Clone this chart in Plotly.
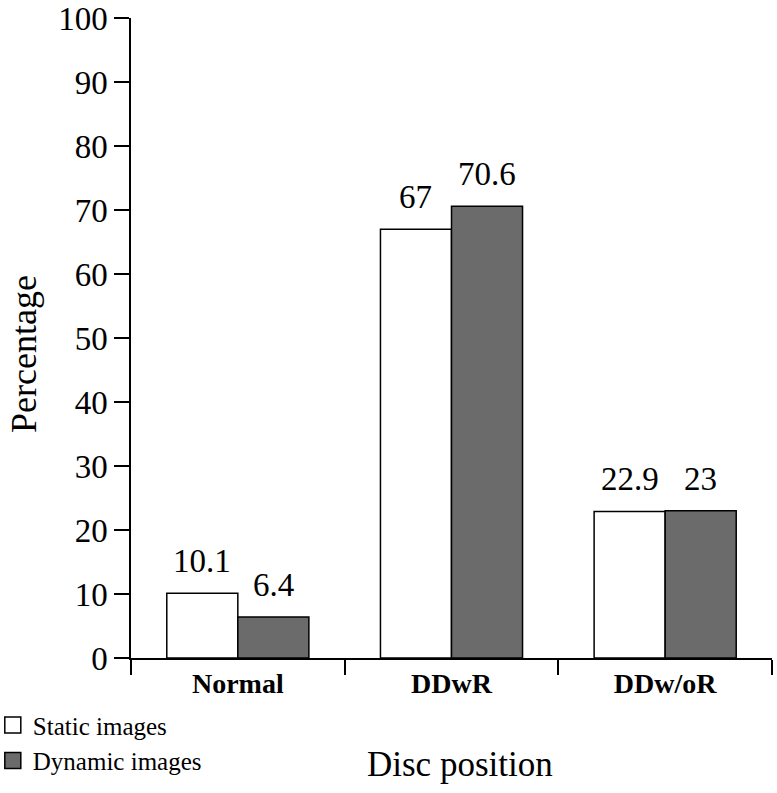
import plotly.graph_objects as go

categories = ["Normal", "DDwR", "DDw/oR"]
static_vals = [10.1, 67, 22.9]
dynamic_vals = [6.4, 70.6, 23]
static_labels = ["10.1", "67", "22.9"]
dynamic_labels = ["6.4", "70.6", "23"]
y_ticks = list(range(0, 101, 10))

FONT = "Liberation Serif, Times New Roman, serif"
GRAY = "#6b6b6b"
BARGAP = 0.335
BAR_W = (1 - BARGAP) / 2  # width of one bar in category units

fig = go.Figure()
fig.add_trace(go.Bar(
    x=categories, y=static_vals, name="Static images", showlegend=False,
    marker=dict(color="white", line=dict(color="black", width=1.5)),
))
fig.add_trace(go.Bar(
    x=categories, y=dynamic_vals, name="Dynamic images", showlegend=False,
    marker=dict(color=GRAY, line=dict(color="black", width=1.5)),
))
# legend entries (square swatches)
fig.add_trace(go.Scatter(
    x=[None], y=[None], mode="markers", name="Static images", legendgroup="a",
    marker=dict(symbol="square", size=17, color="white", line=dict(color="black", width=1.5)),
))
fig.add_trace(go.Scatter(
    x=[None], y=[None], mode="markers", name="Dynamic images", legendgroup="b",
    marker=dict(symbol="square", size=17, color=GRAY, line=dict(color="black", width=1.5)),
))

# value labels above bars
for i in range(len(categories)):
    for vals, labs, sign in ((static_vals, static_labels, -1), (dynamic_vals, dynamic_labels, 1)):
        fig.add_annotation(
            x=i + sign * BAR_W / 2, y=vals[i], text=labs[i],
            xref="x", yref="y", showarrow=False, yanchor="bottom", yshift=12,
            font=dict(size=33, family=FONT, color="black"),
        )

# axis titles
fig.add_annotation(
    text="Percentage", textangle=-90, xref="paper", yref="paper",
    x=-0.167, y=0.475, xanchor="center", yanchor="middle", showarrow=False,
    font=dict(size=36, family=FONT, color="black"),
)
fig.add_annotation(
    text="Disc position", xref="paper", yref="paper",
    x=0.513, y=-0.167, xanchor="center", yanchor="middle", showarrow=False,
    font=dict(size=35, family=FONT, color="black"),
)

fig.update_layout(
    width=777, height=793,
    margin=dict(l=131, r=5, t=18, b=135, autoexpand=False),
    paper_bgcolor="white", plot_bgcolor="white",
    barmode="group", bargap=BARGAP, bargroupgap=0,
    font=dict(family=FONT, color="black"),
    showlegend=True,
    legend=dict(
        xref="paper", yref="paper", x=-0.2156, y=-0.069,
        xanchor="left", yanchor="top",
        font=dict(size=25, family=FONT, color="black"),
        bgcolor="rgba(0,0,0,0)", itemwidth=30,
        traceorder="grouped", tracegroupgap=0,
    ),
)
fig.update_xaxes(
    automargin=False, type="category",
    showline=True, linecolor="black", linewidth=1.5,
    ticks="outside", tickson="boundaries", ticklen=15, tickwidth=1.5, tickcolor="black",
    tickfont=dict(size=28, family=FONT, color="black", weight="bold"),
    showgrid=False,
)
fig.update_yaxes(
    automargin=False,
    range=[0, 100], tickvals=y_ticks, ticktext=[str(v) for v in y_ticks],
    showline=True, linecolor="black", linewidth=1.5,
    ticks="outside", ticklen=15, tickwidth=1.5, tickcolor="black",
    tickfont=dict(size=33, family=FONT, color="black"),
    ticklabeloverflow="allow",
    showgrid=False, zeroline=False,
)

fig.write_html("out.html", config={"displayModeBar": False},
               post_script="document.body.style.margin='0';")
